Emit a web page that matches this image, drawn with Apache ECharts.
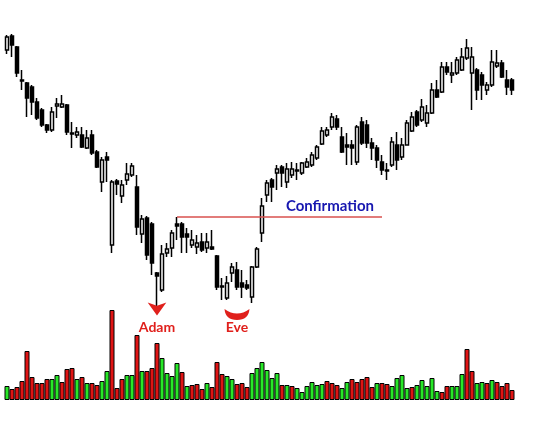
<!DOCTYPE html>
<html>
<head>
<meta charset="utf-8">
<script src="https://cdn.jsdelivr.net/npm/echarts@6/dist/echarts.min.js"></script>
<style>
  html, body { margin: 0; padding: 0; background: #fff; }
  #chart { width: 544px; height: 429px; }
</style>
</head>
<body>
<div id="chart"></div>
<script>
// price data, one entry per session
var opens = [280,294,283,250,247,243,228,220,205,200,224,223,225,197,195,195,182,195,178,148,
  173,85,149,134,150,155,143,96,112,106,57,40,77,82,106,106,96,85,83,88,
  82,83,74,44,32,57,60,47,45,33,63,97,135,150,157,163,148,155,160,157,
  163,165,172,186,195,203,211,193,185,185,168,208,205,187,182,168,160,165,185,173,
  185,199,218,210,207,217,240,238,263,255,257,260,272,257,260,255,240,245,264,267,
  250,250];
var closes = [293,285,257,249,232,228,212,205,200,218,226,226,198,196,198,183,192,177,163,170,
  170,148,146,145,156,164,103,111,75,67,54,76,81,97,104,93,93,90,87,80,
  88,81,43,43,47,63,43,43,42,63,81,124,147,143,161,157,161,161,159,167,
  168,175,183,199,200,213,203,178,183,182,203,187,187,182,170,160,159,188,170,185,
  207,213,205,223,217,240,233,263,258,257,270,273,282,273,240,245,245,268,267,253,
  243,240];
var lows = [276,273,253,240,213,215,210,203,197,198,212,222,195,182,192,182,181,175,162,138,
  148,77,135,127,145,153,95,87,70,55,18,38,73,73,90,77,77,82,76,78,
  77,80,40,30,30,48,40,32,40,27,62,88,128,128,140,143,142,152,150,155,
  162,163,170,185,193,200,200,177,165,165,165,185,182,170,162,155,150,163,160,170,
  185,198,203,208,203,216,232,237,255,247,255,259,270,220,230,230,235,243,262,252,
  235,235];
var highs = [295,296,284,260,248,245,232,222,206,223,232,235,226,208,203,203,200,200,180,173,
  178,150,151,150,167,167,155,115,114,108,58,85,87,100,113,108,102,100,95,97,
  97,100,75,52,54,67,68,60,50,64,83,132,150,152,165,165,167,168,167,168,
  172,178,185,203,203,217,215,203,197,190,205,213,210,192,185,175,167,193,198,192,
  210,218,220,231,225,247,250,268,268,268,273,282,291,283,262,258,248,280,280,270,
  260,252];

// volume, with the colour of each bar (g = green, r = red)
var volumes = [14,11,13,19,49,23,17,17,21,21,25,18,31,32,21,23,17,17,15,19,
  29,90,12,21,25,25,65,29,29,32,57,42,27,24,37,28,14,15,16,11,
  17,13,38,26,24,21,16,17,13,27,32,38,30,22,27,15,15,14,12,8,
  14,18,15,16,19,17,15,12,18,21,18,21,23,13,17,17,16,14,22,25,
  12,13,15,20,14,22,9,8,14,14,14,26,51,29,17,18,17,20,18,14,
  17,10];
var volDirs = ['g','r','r','r','r','r','r','r','r','g','g','r','r','r','g','r','g','r','r','g',
  'g','r','r','r','g','g','r','g','r','r','r','g','g','g','g','r','g','r','r','r',
  'g','r','r','r','g','g','r','r','r','g','g','g','g','g','g','r','g','r','g','g',
  'g','g','g','g','r','r','r','g','g','r','r','r','r','r','g','r','r','g','g','g',
  'g','r','g','g','g','g','g','r','r','g','g','g','r','r','g','g','r','g','r','r',
  'r','r'];

var days = [];
for (var i = 0; i < opens.length; i++) days.push(String(i + 1));

var candleData = [];
for (var i = 0; i < opens.length; i++) {
  candleData.push([opens[i], closes[i], lows[i], highs[i]]);
}
var volData = [];
for (var i = 0; i < volumes.length; i++) {
  volData.push({
    value: volumes[i],
    itemStyle: { color: volDirs[i] === 'g' ? '#28e828' : '#e01414' }
  });
}

var red = '#e0201c';
var dom = document.getElementById('chart');
var myChart = echarts.init(dom);
var option = {
  animation: false,
  backgroundColor: '#fff',
  grid: [
    { left: 4.5, width: 510, top: 30, height: 300 },   // price
    { left: 4.5, width: 510, top: 300, height: 100 }   // volume
  ],
  xAxis: [
    { type: 'category', data: days, gridIndex: 0, show: false, boundaryGap: true },
    { type: 'category', data: days, gridIndex: 1, show: false, boundaryGap: true }
  ],
  yAxis: [
    { type: 'value', gridIndex: 0, min: 0, max: 300, show: false, splitLine: { show: false } },
    { type: 'value', gridIndex: 1, min: 0, max: 100, show: false, splitLine: { show: false } }
  ],
  series: [
    {
      type: 'bar',
      xAxisIndex: 1,
      yAxisIndex: 1,
      barCategoryGap: '0%',
      data: volData,
      itemStyle: { borderColor: '#000', borderWidth: 1 },
      silent: true
    },
    {
      type: 'candlestick',
      xAxisIndex: 0,
      yAxisIndex: 0,
      barWidth: 4,
      data: candleData,
      itemStyle: {
        color: '#fff',
        color0: '#000',
        borderColor: '#000',
        borderColor0: '#000',
        borderWidth: 1.5
      },
      markLine: {
        silent: true,
        symbol: ['none', 'none'],
        lineStyle: { color: '#d9514e', width: 1.5, type: 'solid' },
        label: {
          show: true,
          position: 'insideEndTop',
          formatter: 'Confirmation',
          color: '#1717b0',
          fontFamily: 'Lato',
          fontWeight: 'bold',
          fontSize: 15,
          distance: [8, 3]
        },
        data: [[{ coord: [34, 113] }, { coord: [75, 113] }]]
      },
      markPoint: {
        silent: true,
        data: [
          { coord: [30, 14.5], symbol: 'arrow', symbolRotate: 180, symbolSize: [14, 13],
            itemStyle: { color: red }, label: { show: false } },
          { coord: [46, 15.5], symbol: 'path://M0,0 Q12.5,9 25,0 Q24,11 12.5,11 Q1,11 0,0 Z',
            symbolSize: [25, 11], symbolKeepAspect: false,
            itemStyle: { color: red }, label: { show: false } },
          { coord: [30, 2], symbolSize: 1, itemStyle: { color: 'rgba(0,0,0,0)' },
            label: { show: true, position: 'inside', formatter: 'Adam', color: red,
              fontFamily: 'Lato', fontWeight: 'bold', fontSize: 14 } },
          { coord: [46, 2], symbolSize: 1, itemStyle: { color: 'rgba(0,0,0,0)' },
            label: { show: true, position: 'inside', formatter: 'Eve', color: red,
              fontFamily: 'Lato', fontWeight: 'bold', fontSize: 14 } }
        ]
      }
    }
  ]
};
myChart.setOption(option, true);
</script>
</body>
</html>
